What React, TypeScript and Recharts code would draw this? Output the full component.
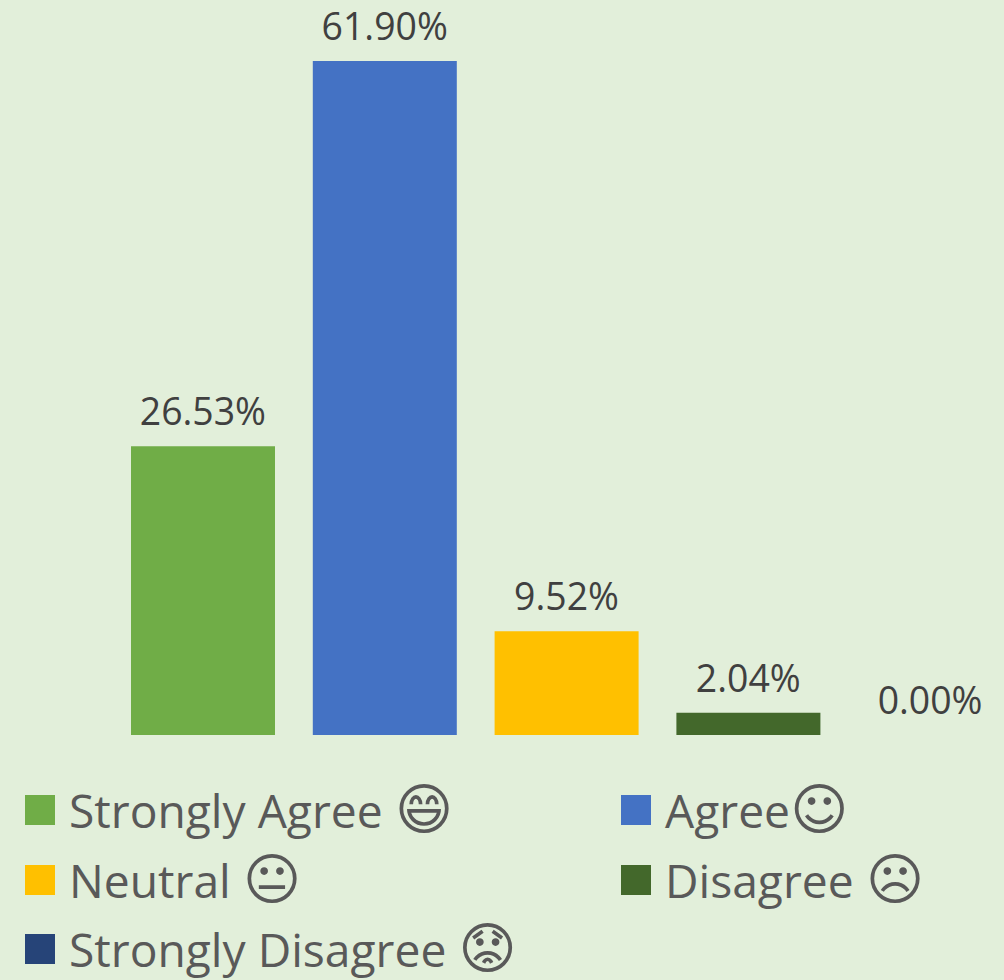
import { ComposedChart, Bar, Line, XAxis, YAxis, Cell } from 'recharts'

const categories = ['Strongly Agree', 'Agree', 'Neutral', 'Disagree', 'Strongly Disagree']
const values = [26.53, 61.9, 9.52, 2.04, 0]
const colors = ['#70ad47', '#4472c4', '#ffc000', '#43682b', '#264478']
const legendText = ['Strongly Agree ', 'Agree', 'Neutral ', 'Disagree ', 'Strongly Disagree ']
const legendFaces = ['😄', '☺', '😐', '☹', '😟']
const legendRowTops = [775, 845, 914]

const chartData = categories.map((name, i) => ({ name, value: values[i] }))
const font = '"Open Sans", "DejaVu Sans", sans-serif'

// a zero-height bar drops its label, so the labels hang off an invisible line instead
function ValueLabel(props: any) {
  const { x, y, value } = props
  return (
    <text x={x} y={y - 21} textAnchor="middle" fontSize={37.4} fill="#404040" fontFamily={font}>
      {Number(value).toFixed(2) + '%'}
    </text>
  )
}

export default function App() {
  return (
    <div style={{ position: 'absolute', left: 0, top: 0, width: 1004, height: 980, background: '#e2efda', overflow: 'hidden', fontFamily: font }}>
      <ComposedChart
        width={1040}
        height={760}
        data={chartData}
        barSize={144}
        margin={{ top: 61, right: 19, left: 112, bottom: 25 }}
      >
        <XAxis dataKey="name" hide />
        <YAxis hide domain={[0, 61.9]} />
        <Bar dataKey="value" isAnimationActive={false}>
          {chartData.map((d, i) => (
            <Cell key={d.name} fill={colors[i]} />
          ))}
        </Bar>
        <Line dataKey="value" stroke="none" dot={false} label={ValueLabel} isAnimationActive={false} />
      </ComposedChart>
      {legendText.map((label, i) => (
        <div
          key={label}
          style={{
            position: 'absolute',
            left: i % 2 === 0 ? 25 : 621,
            top: legendRowTops[Math.floor(i / 2)],
            height: 70,
            display: 'flex',
            alignItems: 'center',
            fontSize: 46.2,
            color: '#595959',
            whiteSpace: 'pre',
          }}
        >
          <span style={{ width: 30, height: 30, background: colors[i], marginRight: 14, flex: 'none' }} />
          {label}
          <span style={{ fontFamily: '"DejaVu Sans"', fontSize: 56, lineHeight: '66px' }}>{legendFaces[i]}</span>
        </div>
      ))}
    </div>
  )
}
